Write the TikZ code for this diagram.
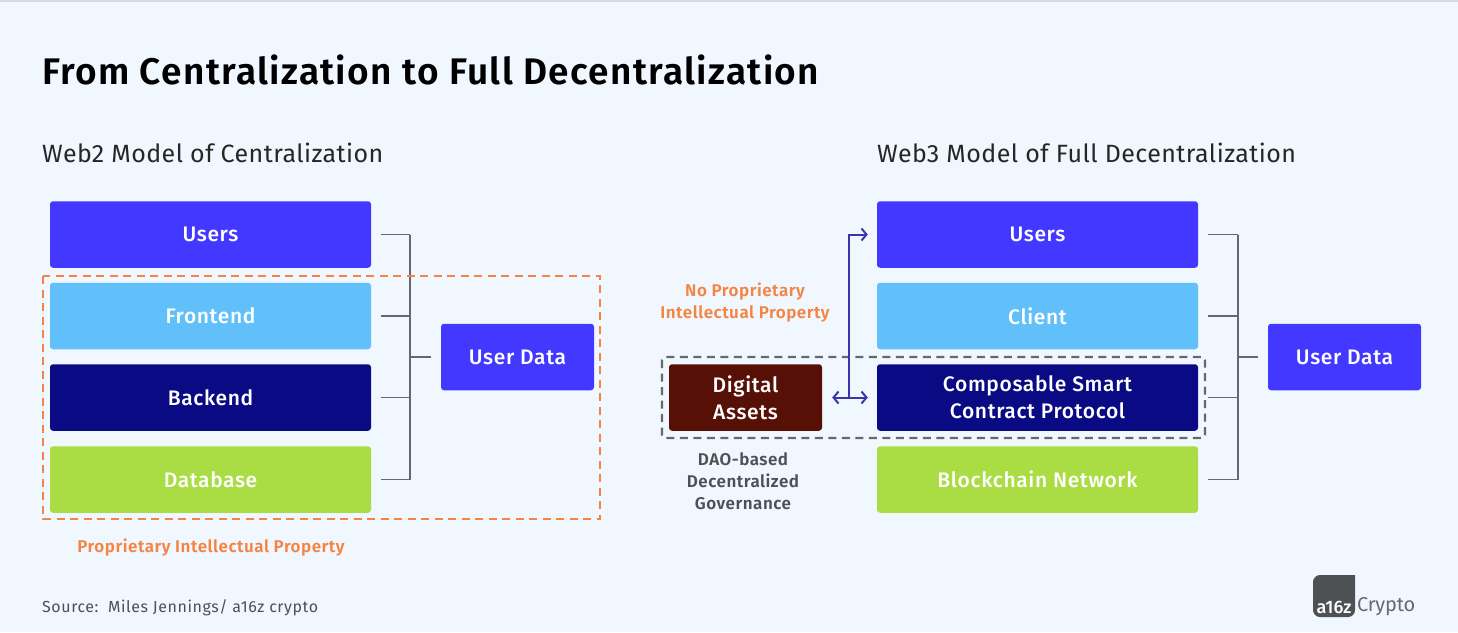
\documentclass[tikz,border=0pt]{standalone}
\usepackage{fontspec}
\setmainfont{Fira Sans}
\newfontfamily\semib{Fira Sans SemiBold}
\newfontfamily\medm{Fira Sans Medium}
\usetikzlibrary{arrows.meta}
\definecolor{bgc}{HTML}{F0F7FE}
\definecolor{blu}{HTML}{4338FF}
\definecolor{sky}{HTML}{61C0FA}
\definecolor{nav}{HTML}{0A0A85}
\definecolor{lim}{HTML}{AADD44}
\definecolor{brn}{HTML}{561006}
\definecolor{org}{HTML}{F58442}
\definecolor{arr}{HTML}{3A35A8}
\definecolor{gry}{HTML}{4D5154}
\definecolor{lne}{HTML}{66696B}
\tikzset{
  x=1pt,y=-1pt,
  wbox/.style={rounded corners=3pt,text=white,align=center,font=\fontsize{21}{27}\selectfont\medm\addfontfeature{LetterSpace=3},inner sep=0pt,minimum height=66.5pt},
  wide/.style={wbox,minimum width=321pt},
  small/.style={wbox,minimum width=153pt},
  bracket/.style={draw=lne,line width=1.3pt},
  dblarr/.style={draw=arr,line width=2pt,{Straight Barb[length=5pt,width=12pt]}-{Straight Barb[length=5pt,width=12pt]}},
  onearr/.style={draw=arr,line width=2pt,-{Straight Barb[length=5pt,width=12pt]}},
  ttl/.style={anchor=west,inner sep=0pt,font=\fontsize{25}{30}\selectfont\addfontfeature{LetterSpace=1.8},text=black!85},
  olabel/.style={align=center,inner sep=0pt,text=org,font=\fontsize{17}{22}\selectfont\semib\addfontfeature{LetterSpace=3}},
  glabel/.style={align=center,inner sep=0pt,text=gry,font=\fontsize{17}{22}\selectfont\semib\addfontfeature{LetterSpace=3}},
}
\begin{document}
\begin{tikzpicture}
\useasboundingbox (0,0) rectangle (1458,632);
\fill[bgc] (0,0) rectangle (1458,632);
\fill[black!15] (0,0) rectangle (1458,2);
\node[anchor=west,inner sep=0pt,font=\fontsize{37}{44}\selectfont\semib\addfontfeature{LetterSpace=3.6}] (title) at (42,70) {From Centralization to Full Decentralization};
\node[ttl] (lt) at (42,152.8) {Web2 Model of Centralization};
\node[ttl] (rt) at (877,152.8) {Web3 Model of Full Decentralization};
% left
\node[wide,fill=blu] (lu) at (210.5,234.5) {Users};
\node[wide,fill=sky] (lf) at (210.5,316) {Frontend};
\node[wide,fill=nav] (lb) at (210.5,397.5) {Backend};
\node[wide,fill=lim] (ld) at (210.5,479.5) {Database};
\node[small,fill=blu] (lud) at (517.5,357) {User Data};
\coordinate (lbr) at (410,357);
\foreach \n in {lu,lf,lb,ld} \draw[bracket] ([xshift=10pt]\n.east) -- (\n.east -| lbr);
\draw[bracket] (lu.east -| lbr) -- (ld.east -| lbr);
\draw[bracket] (lbr) -- ([xshift=-10pt]lud.west);
\draw[org,line width=2.4pt,dash pattern=on 8pt off 5.5pt] (43,276) rectangle (600,519);
\node[olabel] (lprop) at (211,547.8) {Proprietary Intellectual Property};
% right
\node[wide,fill=blu] (ru) at (1037.5,234.5) {Users};
\node[wide,fill=sky] (rc) at (1037.5,316) {Client};
\node[wide,fill=nav] (rs) at (1037.5,397.5) {Composable Smart\\Contract Protocol};
\node[wide,fill=lim] (rn) at (1037.5,479.5) {Blockchain Network};
\node[small,fill=blu] (rud) at (1344.5,357) {User Data};
\node[small,fill=brn] (da) at (745.5,397.5) {Digital\\Assets};
\coordinate (rbr) at (1238,357);
\foreach \n in {ru,rc,rs,rn} \draw[bracket] ([xshift=10pt]\n.east) -- (\n.east -| rbr);
\draw[bracket] (ru.east -| rbr) -- (rn.east -| rbr);
\draw[bracket] (rbr) -- ([xshift=-10pt]rud.west);
\draw[lne,line width=2.4pt,dash pattern=on 8pt off 5.5pt,rounded corners=3pt] (662,357) rectangle (1205,438);
\coordinate (stem) at (849,397.5);
\draw[dblarr] ([xshift=10pt]da.east) -- ([xshift=-9pt]rs.west);
\draw[onearr] (stem) -- (stem |- ru.west) -- ([xshift=-9pt]ru.west);
\node[olabel] (noprop) at (745,302.2) {No Proprietary\\Intellectual Property};
\node[glabel] (dao) at (743,481) {DAO-based\\Decentralized\\Governance};
\node[anchor=west,inner sep=0pt,text=gry,font=\fontsize{16}{20}\selectfont\addfontfeature{LetterSpace=3.5}] (src) at (42,607.5) {Source:\ \ Miles Jennings/ a16z crypto};
% logo
\fill[gry,rounded corners=7pt] (1355,575) -- (1313,575) -- (1313,617) -- (1355,617) -- (1355,590) [sharp corners] -- cycle;
\fill[gry] (1340,575) rectangle (1355,590);
\node[inner sep=0pt,text=white,font=\fontsize{18}{20}\selectfont\medm] (a16z) at (1334,607) {a16z};
\node[anchor=west,inner sep=0pt,text=gry!85,font=\fontsize{20}{22}\selectfont\addfontfeature{LetterSpace=-1}] (cry) at (1357,607) {Crypto};
\end{tikzpicture}
\end{document}
